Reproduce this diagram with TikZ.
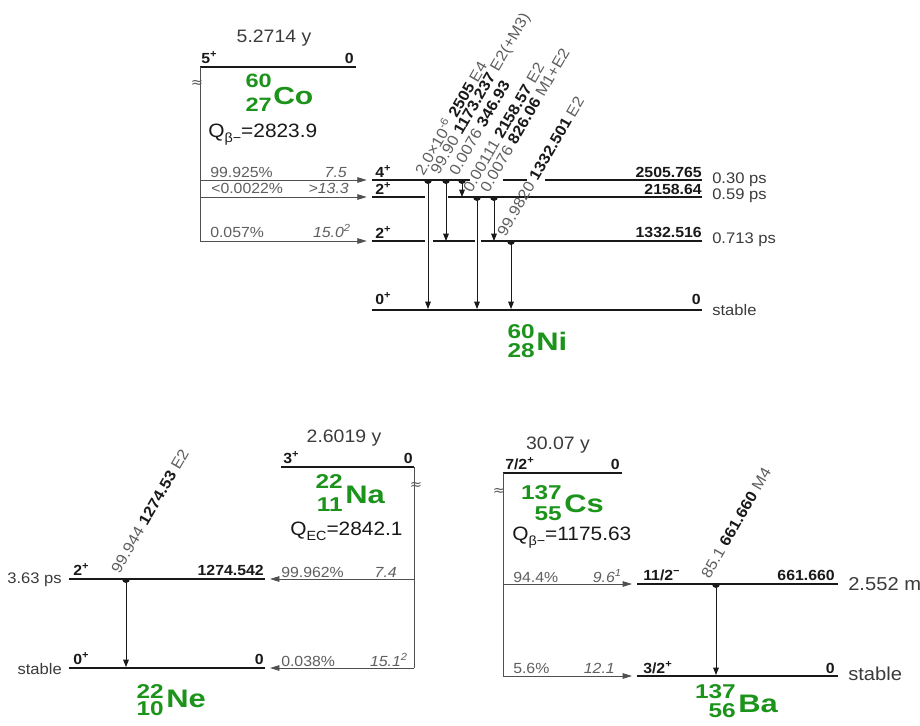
\documentclass[tikz,border=0pt]{standalone}
\usepackage{fontspec}
\setmainfont{Liberation Sans}[FakeStretch=1.08]
\newfontfamily\nucfont{Liberation Sans}[FakeStretch=1.22]
\newfontfamily\symbfont{DejaVu Sans}
\usetikzlibrary{arrows.meta}
\definecolor{nucgreen}{RGB}{28,148,28}
\definecolor{ink}{RGB}{25,25,25}
\definecolor{soft}{RGB}{95,95,95}
\definecolor{fline}{RGB}{80,80,80}
\newcommand{\fs}[1]{\fontsize{#1}{#1}\selectfont}
\newcommand{\gdot}[1]{\fill[ink] (#1) ++(-3pt,0pt) arc[start angle=180,end angle=360,radius=3pt] -- cycle;}
\newcommand{\gi}[1]{\textcolor{soft}{#1}}
\begin{document}
\begin{tikzpicture}[x=0.75pt,y=-0.75pt,
 every node/.style={inner sep=0pt, text=ink},
 gsline/.style={line width=1.8pt, draw=ink},
 exline/.style={line width=0.8pt, draw=ink},
 feedline/.style={line width=0.6pt, draw=fline},
 feedarrow/.style={feedline, -{Triangle[length=7pt,width=4.2pt]}},
 gamarrow/.style={line width=0.6pt, draw=ink, -{Triangle[length=5.5pt,width=4.2pt]}},
 titlelbl/.style={font=\fs{13.5}, text=ink!85},
 qlbl/.style={font=\fs{14.5}, anchor=base west},
 spinlbl/.style={font=\fs{11}\bfseries, anchor=base west},
 enlbl/.style={font=\fs{11}\bfseries, anchor=base east},
 hllbl/.style={font=\fs{11.5}, anchor=base west, text=ink!85},
 hlrlbl/.style={font=\fs{11.5}, anchor=base east, text=ink!85},
 brlbl/.style={font=\fs{11}, anchor=base west, text=soft},
 ftlbl/.style={font=\fs{11}\itshape, anchor=base east, text=soft},
 gamlbl/.style={font=\fs{11.5}, rotate=60, anchor=south west, inner sep=0.5pt},
 approxlbl/.style={font=\symbfont\fs{11}, text=soft},
 anum/.style={font=\nucfont\fs{15}\bfseries, text=nucgreen, anchor=base east},
 symlbl/.style={font=\nucfont\fs{19}\bfseries, text=nucgreen, anchor=base west},
]
\fill[white] (0,0) rectangle (920,725);
\useasboundingbox (0,0) rectangle (920,725);

% ================= Co-60 -> Ni-60 =================
\coordinate (coL) at (200,67); \coordinate (coR) at (356,67);
\coordinate (co1) at (200,180); \coordinate (co2) at (200,197); \coordinate (co3) at (200,241);
\coordinate (n4a) at (372,180); \coordinate (n4b) at (702,180);
\coordinate (n3a) at (372,197); \coordinate (n3b) at (702,197);
\coordinate (n2a) at (372,241); \coordinate (n2b) at (702,241);
\coordinate (n0a) at (372,310); \coordinate (n0b) at (702,310);

\draw[gsline] (coL) -- (coR);
\draw[feedline] (coL) -- (co3);
\draw[exline] (n4a) -- (470,180) (503,180) -- (527,180) (545,180) -- (n4b);
\draw[exline] (n3a) -- (425,197) (448,197) -- (n3b);
\draw[exline] (n2a) -- (425,241) (433,241) -- (475,241) (481,241) -- (n2b);
\draw[gsline] (n0a) -- (n0b);

\draw[feedarrow, shorten >=4pt] (co1) -- (n4a);
\draw[feedarrow, shorten >=4pt] (co2) -- (n3a);
\draw[feedarrow, shorten >=4pt] (co3) -- (n2a);

\node[titlelbl] (coT) at (274,38) {5.2714 y};
\node[spinlbl] (coJ) at (201,63) {5\textsuperscript{+}};
\node[enlbl] (coE) at (354,63) {0};
\node[approxlbl] (coAp) at (197,84) {≈};
\node[anum, font=\nucfont\fs{14.5}\bfseries] (coA) at (272,87) {60};
\node[anum, font=\nucfont\fs{14.5}\bfseries] (coZ) at (272,111) {27};
\node[symlbl, font=\nucfont\fs{18.5}\bfseries] (coS) at (273,104) {Co};
\node[qlbl] (coQ) at (208,137) {Q{\fs{10}\raisebox{-4pt}{β−}}=2823.9};

\node[brlbl] (cob1) at (210,177) {99.925\%};
\node[ftlbl] (cof1) at (347,177) {7.5};
\node[brlbl] (cob2) at (211,193) {<0.0022\%};
\node[ftlbl] (cof2) at (349,193) {>13.3};
\node[brlbl] (cob3) at (210,237) {0.057\%};
\node[ftlbl] (cof3) at (351,237) {15.0\textsuperscript{2}};

\node[spinlbl] (niJ4) at (375,177) {4\textsuperscript{+}};
\node[spinlbl] (niJ3) at (375,194) {2\textsuperscript{+}};
\node[spinlbl] (niJ2) at (375,238) {2\textsuperscript{+}};
\node[spinlbl] (niJ0) at (375,304) {0\textsuperscript{+}};
\node[enlbl] (niE4) at (702,177) {2505.765};
\node[enlbl] (niE3) at (702,194) {2158.64};
\node[enlbl] (niE2) at (702,237) {1332.516};
\node[enlbl] (niE0) at (701,304) {0};
\node[hllbl] (niH4) at (712,183) {0.30 ps};
\node[hllbl] (niH3) at (712,199) {0.59 ps};
\node[hllbl] (niH2) at (712,243) {0.713 ps};
\node[hllbl] (niH0) at (712,315) {stable};
\node[anum] (niA) at (535,338) {60};
\node[anum] (niZ) at (535,357) {28};
\node[symlbl] (niS) at (536,350) {Ni};

\node[gamlbl] (gl1) at (424,178) {\gi{2.0×10\textsuperscript{-6}} \textbf{2505} \gi{E4}};
\node[gamlbl] (gl2) at (442,178) {\gi{99.90} \textbf{1173.237} \gi{E2(+M3)}};
\node[gamlbl] (gl3) at (458,178) {\gi{0.0076} \textbf{346.93}};
\node[gamlbl] (gl4) at (472,195) {\gi{0.00111} \textbf{2158.57} \gi{E2}};
\node[gamlbl] (gl5) at (489,195) {\gi{0.0076} \textbf{826.06} \gi{M1+E2}};
\node[gamlbl] (gl6) at (506,239) {\gi{99.9820} \textbf{1332.501} \gi{E2}};

\coordinate (g1s) at (428,180); \coordinate (g1e) at (428,309);
\coordinate (g2s) at (446,180); \coordinate (g2e) at (446,241);
\coordinate (g3s) at (462,180); \coordinate (g3e) at (462,197);
\coordinate (g4s) at (477,197); \coordinate (g4e) at (477,309);
\coordinate (g5s) at (494,197); \coordinate (g5e) at (494,241);
\coordinate (g6s) at (511,241); \coordinate (g6e) at (511,309);
\foreach \g in {1,...,6}{\draw[gamarrow] (g\g s) -- (g\g e); \gdot{g\g s}}

% ================= Na-22 -> Ne-22 =================
\coordinate (naL) at (281,467); \coordinate (naR) at (414,467);
\coordinate (na1) at (414,579); \coordinate (na2) at (414,668);
\coordinate (ne2a) at (69,579); \coordinate (ne2b) at (265,579);
\coordinate (ne0a) at (69,668); \coordinate (ne0b) at (265,668);
\draw[gsline] (naL) -- (naR);
\draw[feedline] (naR) -- (na2);
\draw[exline] (ne2a) -- (ne2b);
\draw[gsline] (ne0a) -- (ne0b);
\draw[feedarrow, shorten >=3.8pt] (na1) -- (ne2b);
\draw[feedarrow, shorten >=3.8pt] (na2) -- (ne0b);

\node[titlelbl] (naT) at (344,438) {2.6019 y};
\node[spinlbl] (naJ) at (283,463) {3\textsuperscript{+}};
\node[enlbl] (naE) at (413,463) {0};
\node[approxlbl] (naAp) at (416,486) {≈};
\node[anum] (naA) at (343,488) {22};
\node[anum] (naZ) at (343,511) {11};
\node[symlbl] (naS) at (345,503) {Na};
\node[qlbl] (naQ) at (290,535) {Q{\fs{10}\raisebox{-4pt}{EC}}=2842.1};
\node[brlbl] (nab1) at (281,577) {99.962\%};
\node[ftlbl] (naf1) at (397,577) {7.4};
\node[brlbl] (nab2) at (281,666) {0.038\%};
\node[ftlbl] (naf2) at (408,666) {15.1\textsuperscript{2}};

\node[hlrlbl] (neH2) at (62,583) {3.63 ps};
\node[hlrlbl] (neH0) at (62,674) {stable};
\node[spinlbl] (neJ2) at (73,575) {2\textsuperscript{+}};
\node[enlbl] (neE2) at (264,575) {1274.542};
\node[spinlbl] (neJ0) at (73,664) {0\textsuperscript{+}};
\node[enlbl] (neE0) at (264,664) {0};
\node[anum] (neA) at (164,698) {22};
\node[anum] (neZ) at (164,715) {10};
\node[symlbl] (neS) at (166,707) {Ne};
\node[gamlbl] (glne) at (120,576) {\gi{99.944} \textbf{1274.53} \gi{E2}};
\coordinate (gnes) at (126,579); \coordinate (gnee) at (126,667);
\draw[gamarrow] (gnes) -- (gnee); \gdot{gnes}

% ================= Cs-137 -> Ba-137 =================
\coordinate (csL) at (503,473); \coordinate (csR) at (622,473);
\coordinate (cs1) at (503,584); \coordinate (cs2) at (503,676);
\coordinate (ba1a) at (637,584); \coordinate (ba1b) at (838,584);
\coordinate (ba0a) at (637,676); \coordinate (ba0b) at (838,676);
\draw[gsline] (csL) -- (csR);
\draw[feedline] (csL) -- (cs2);
\draw[line width=1.3pt, draw=ink] (ba1a) -- (ba1b);
\draw[gsline] (ba0a) -- (ba0b);
\draw[feedarrow, shorten >=3.8pt] (cs1) -- (ba1a);
\draw[feedarrow, shorten >=3.8pt] (cs2) -- (ba0a);

\node[titlelbl] (csT) at (558,445) {30.07 y};
\node[spinlbl] (csJ) at (505,469) {7/2\textsuperscript{+}};
\node[enlbl] (csE) at (620,469) {0};
\node[approxlbl] (csAp) at (499,492) {≈};
\node[anum] (csA) at (562,499) {137};
\node[anum] (csZ) at (562,520) {55};
\node[symlbl] (csS) at (564,512) {Cs};
\node[qlbl] (csQ) at (512,540) {Q{\fs{10}\raisebox{-4pt}{β−}}=1175.63};
\node[brlbl] (csb1) at (513,582) {94.4\%};
\node[ftlbl] (csf1) at (622,582) {9.6\textsuperscript{1}};
\node[brlbl] (csb2) at (513,673) {5.6\%};
\node[ftlbl] (csf2) at (615,673) {12.1};

\node[spinlbl] (baJ1) at (643,580) {11/2\textsuperscript{−}};
\node[enlbl] (baE1) at (835,580) {661.660};
\node[hllbl, font=\fs{14}] (baH1) at (848,590) {2.552 m};
\node[spinlbl] (baJ0) at (643,673) {3/2\textsuperscript{+}};
\node[enlbl] (baE0) at (835,673) {0};
\node[hllbl, font=\fs{14}] (baH0) at (848,680) {stable};
\node[anum] (baA) at (736,698) {137};
\node[anum] (baZ) at (736,717) {56};
\node[symlbl] (baS) at (738,712) {Ba};
\node[gamlbl] (glba) at (710,581) {\gi{85.1} \textbf{661.660} \gi{M4}};
\coordinate (gbas) at (716,584); \coordinate (gbae) at (716,675);
\draw[gamarrow] (gbas) -- (gbae); \gdot{gbas}
\end{tikzpicture}
\end{document}
